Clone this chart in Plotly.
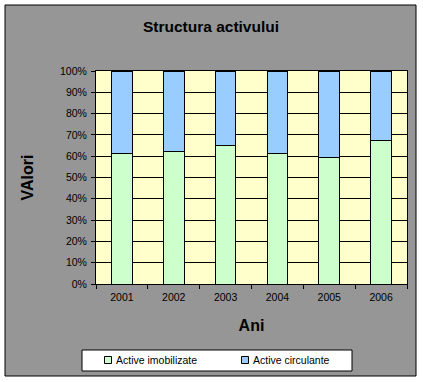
import plotly.graph_objects as go

years = ["2001", "2002", "2003", "2004", "2005", "2006"]
imobilizate = [0.613, 0.622, 0.650, 0.613, 0.594, 0.674]
circulante = [round(1 - v, 3) for v in imobilizate]
series_names = ["Active imobilizate", "Active circulante"]
colors = ["#CCFFCC", "#99CCFF"]

W, H = 423, 382
L, R, T, B = 96, 16, 71, 98
pw, ph = W - L - R, H - T - B


def px(x):
    return (x - L) / pw


def py(y):
    return (H - B - y) / ph


FONT = "Arial, Liberation Sans, sans-serif"

fig = go.Figure()
for name, vals, col in zip(series_names, [imobilizate, circulante], colors):
    fig.add_trace(go.Bar(
        x=years, y=vals, name=name,
        marker=dict(color=col, line=dict(color="black", width=1)),
        showlegend=False,
    ))

shapes = [
    dict(type="rect", xref="paper", yref="paper", layer="below",
         x0=px(5), x1=px(416), y0=py(376), y1=py(5),
         fillcolor="#969696", line=dict(color="black", width=1)),
    dict(type="rect", xref="paper", yref="paper", layer="below",
         x0=0, x1=1, y0=0, y1=1,
         fillcolor="#FFFFCC", line=dict(width=0)),
    # legend box
    dict(type="rect", xref="paper", yref="paper",
         x0=px(82), x1=px(352), y0=py(371), y1=py(350),
         fillcolor="white", line=dict(color="black", width=1)),
]
annotations = []
leg_pos = [(104.5, 114), (241.5, 251)]
for (sx, tx), name, col in zip(leg_pos, series_names, colors):
    shapes.append(dict(type="rect", xref="paper", yref="paper",
                       x0=px(sx), x1=px(sx + 7), y0=py(363.5), y1=py(356.5),
                       fillcolor=col, line=dict(color="black", width=1)))
    annotations.append(dict(xref="paper", yref="paper", x=px(tx), y=py(360),
                            xanchor="left", yanchor="middle", showarrow=False,
                            text=name, font=dict(family=FONT, size=10.5, color="black")))

fig.update_layout(
    width=W, height=H,
    margin=dict(l=L, r=R, t=T, b=B, pad=0, autoexpand=False),
    paper_bgcolor="white",
    plot_bgcolor="rgba(0,0,0,0)",
    barmode="stack",
    bargap=0.6,
    font=dict(family=FONT, size=10.5, color="black"),
    title=dict(text="<b>Structura activului</b>", x=px(211), xanchor="center",
               xref="paper", y=1 - 27 / H, yref="container", yanchor="middle",
               font=dict(family=FONT, size=15.5, color="black")),
    shapes=shapes,
    annotations=annotations,
    xaxis=dict(
        type="category", showgrid=False, showline=True, linecolor="black",
        linewidth=1, mirror=True, ticks="outside", tickson="boundaries",
        ticklen=4, tickcolor="black", automargin=False, ticklabelstandoff=3,
        title=dict(text="<b>Ani</b>", standoff=18,
                   font=dict(family=FONT, size=16, color="black")),
    ),
    yaxis=dict(
        range=[0, 1], dtick=0.1, tickformat=".0%", showgrid=True,
        gridcolor="black", gridwidth=1, showline=True, linecolor="black",
        linewidth=1, mirror=True, ticks="outside", ticklen=4, tickcolor="black",
        zeroline=False, automargin=False, ticklabelstandoff=2,
        title=dict(text="<b>VAlori</b>", standoff=22,
                   font=dict(family=FONT, size=16, color="black")),
    ),
)

fig.write_html("out.html", config={"displayModeBar": False},
               post_script="document.body.style.margin='0';document.body.style.overflow='hidden';")
